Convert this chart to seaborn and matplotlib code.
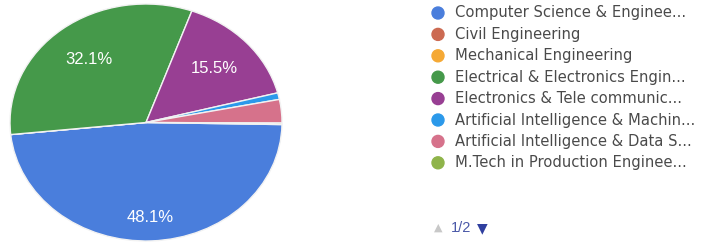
import matplotlib
matplotlib.use("Agg")
import matplotlib.pyplot as plt
import seaborn as sns
import numpy as np

sns.set_theme(style="white")
plt.rcParams['font.family'] = ['Liberation Sans', 'DejaVu Sans']

categories = [
    "Computer Science & Enginee...",
    "Civil Engineering",
    "Mechanical Engineering",
    "Electrical & Electronics Engin...",
    "Electronics & Tele communic...",
    "Artificial Intelligence & Machin...",
    "Artificial Intelligence & Data S...",
    "M.Tech in Production Enginee...",
]
shares = [48.1, 0.0, 0.0, 32.1, 15.5, 0.9, 3.2, 0.2]
colors = ["#4a7edc", "#cc6a52", "#f5a935", "#45994a", "#983f93",
          "#2b99ea", "#d6728b", "#8fb44a"]
page_label = "1/2"

fig = plt.figure(figsize=(7.09, 2.45), dpi=100)
ax = fig.add_axes([10/709, 4/245, 272/709, 237/245])

wedges, texts, autotexts = ax.pie(
    shares, colors=colors, startangle=-1, counterclock=False,
    autopct=lambda p: f"{p:.1f}%" if p >= 5 else "",
    pctdistance=0.68,
    wedgeprops=dict(edgecolor="#f2f2f2", linewidth=1.0),
    textprops=dict(color="white", fontsize=12),
)
for v, t in zip(shares, autotexts):
    if v > 45:
        x, y = t.get_position()
        t.set_position((x * 1.18, y * 1.18))
ax.set_aspect("auto")
ax.set_xlim(-1.0, 1.0)
ax.set_ylim(-1.0, 1.0)
ax.axis("off")

# legend
W, H = 709, 245
y0, dy = 13, 21.4
for i, (lab, c) in enumerate(zip(categories, colors)):
    yy = 1 - (y0 + i * dy) / H
    fig.patches.append(matplotlib.patches.Ellipse((438 / W, yy), 12 / W, 12 / H,
                                                  transform=fig.transFigure,
                                                  color=c, figure=fig))
    fig.text(455 / W, yy, lab, fontsize=10.6, color="#4a4a4a", va="center", ha="left",
             family=['DejaVu Sans'])

yn = 1 - 228 / H
fig.text(438 / W, yn, "▲", fontsize=8, color="#c8c8c8", va="center", ha="center",
         family=['DejaVu Sans'])
fig.text(451 / W, yn, page_label, fontsize=10.5, color="#4a58a8", va="center", ha="left")
fig.text(482 / W, yn, "▼", fontsize=10, color="#2f3f9f", va="center", ha="center",
         family=['DejaVu Sans'])

fig.savefig("out.png", dpi=100)
